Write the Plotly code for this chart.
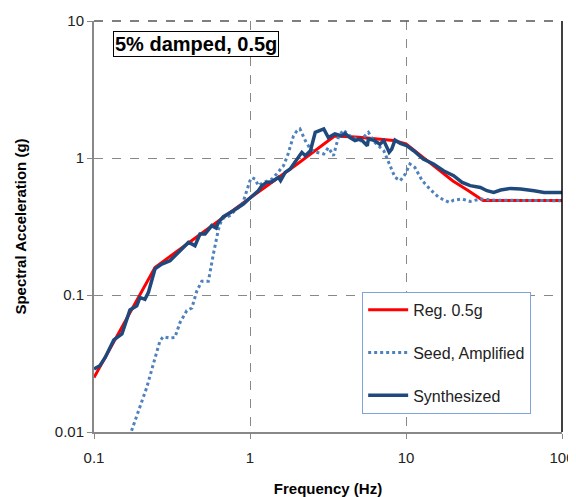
import plotly.graph_objects as go

# Reg. 0.5g target spectrum (Hz, g)
reg_f = [0.1, 0.246, 1.0, 2.0, 3.5, 5.0, 8.3, 10.0, 15.0, 20.0, 25.0, 31.2, 100.0]
reg_sa = [0.025, 0.159, 0.51, 0.90, 1.45, 1.42, 1.34, 1.27, 0.88, 0.68, 0.58, 0.49, 0.49]

# Seed, Amplified
seed_f = [0.174, 0.197, 0.218, 0.24, 0.265, 0.278, 0.307, 0.33, 0.356, 0.393, 0.424,
          0.456, 0.491, 0.541, 0.555, 0.583, 0.627, 0.66, 0.74, 0.82, 0.9, 1.0, 1.03,
          1.08, 1.13, 1.22, 1.38, 1.48, 1.64, 1.74, 1.81, 1.9, 2.0, 2.09, 2.26, 2.44,
          2.68, 2.97, 3.18, 3.43, 3.68, 3.96, 4.37, 5.1, 5.74, 6.3, 7.2, 7.93, 8.5,
          9.2, 9.9, 10.6, 11.4, 12.7, 14.3, 16.2, 17.9, 19.0, 20.2, 22.9, 25.8, 30.0,
          37.8, 49.0, 66.0, 98.0]
seed_sa = [0.0102, 0.0151, 0.0212, 0.0313, 0.0464, 0.0496, 0.0485, 0.049, 0.063, 0.0768,
           0.0804, 0.107, 0.126, 0.126, 0.15, 0.2, 0.3, 0.359, 0.379, 0.425, 0.47, 0.683,
           0.72, 0.70, 0.628, 0.664, 0.70, 0.764, 0.879, 1.04, 1.19, 1.45, 1.58, 1.63,
           1.34, 1.16, 1.1, 1.07, 1.19, 1.04, 1.41, 1.6, 1.45, 1.34, 1.54, 1.3, 1.13,
           0.879, 0.722, 0.683, 0.764, 0.904, 0.854, 0.683, 0.59, 0.516, 0.488, 0.474,
           0.492, 0.502, 0.482, 0.502, 0.492, 0.492, 0.488, 0.488]

# Synthesized
syn_f = [0.1, 0.109, 0.118, 0.134, 0.151, 0.162, 0.170, 0.188, 0.197, 0.212, 0.223,
         0.246, 0.272, 0.307, 0.347, 0.374, 0.403, 0.423, 0.444, 0.478, 0.515, 0.569,
         0.606, 0.627, 0.675, 0.782, 0.906, 1.0, 1.13, 1.19, 1.28, 1.38, 1.52, 1.57,
         1.68, 1.81, 2.0, 2.15, 2.26, 2.44, 2.62, 2.97, 3.18, 3.5, 3.87, 4.07, 4.37,
         4.71, 5.1, 5.65, 5.74, 6.3, 6.8, 7.2, 7.8, 8.1, 8.5, 9.2, 10.1, 11.2, 12.9,
         15.0, 17.4, 20.2, 22.9, 25.8, 30.0, 33.0, 36.5, 40.4, 46.8, 54.3, 66.2, 76.8, 100.0]
syn_sa = [0.0288, 0.0305, 0.035, 0.047, 0.052, 0.067, 0.0778, 0.0835, 0.096, 0.093, 0.104,
          0.155, 0.168, 0.178, 0.205, 0.223, 0.242, 0.236, 0.229, 0.279, 0.279, 0.321,
          0.308, 0.339, 0.373, 0.412, 0.461, 0.51, 0.577, 0.628, 0.664, 0.671, 0.722, 0.683,
          0.785, 0.831, 0.984, 1.1, 1.04, 1.13, 1.54, 1.63, 1.41, 1.50, 1.45, 1.51, 1.41,
          1.34, 1.38, 1.23, 1.38, 1.34, 1.26, 1.34, 1.1, 1.16, 1.35, 1.28, 1.23, 1.13, 0.984,
          0.904, 0.807, 0.743, 0.664, 0.628, 0.61, 0.577, 0.561, 0.584, 0.6, 0.594, 0.577,
          0.561, 0.561]

font = "Arial, Liberation Sans, sans-serif"

fig = go.Figure()
fig.add_trace(go.Scatter(x=reg_f, y=reg_sa, mode='lines', name='Reg. 0.5g',
                         legendgroup='a', line=dict(color='#FF0000', width=3)))
fig.add_trace(go.Scatter(x=seed_f, y=seed_sa, mode='lines', name='Seed, Amplified',
                         legendgroup='b', line=dict(color='#4F81BD', width=3, dash='3px,3px')))
fig.add_trace(go.Scatter(x=syn_f, y=syn_sa, mode='lines', name='Synthesized',
                         legendgroup='c', line=dict(color='#1F497D', width=3.5)))

# page body has an 8px margin, so the figure is sized to fit the window
fig.update_layout(
    width=568, height=489,
    margin=dict(l=86, r=14, t=13, b=65, autoexpand=False),
    paper_bgcolor='white', plot_bgcolor='white',
    font=dict(family=font, size=15, color='#222222'),
    showlegend=True,
    legend=dict(x=0.573, y=0.341, xanchor='left', yanchor='top',
                bordercolor='#7FA4D8', borderwidth=1, bgcolor='white',
                font=dict(size=16, color='#222222'), itemwidth=40,
                tracegroupgap=19),
    xaxis=dict(type='log', range=[-1, 2], showgrid=True, gridcolor='#888888',
               griddash='dash', gridwidth=1, showline=True, linecolor='#888888',
               linewidth=2, ticks='outside', ticklen=5, tickcolor='#888888',
               tickvals=[0.1, 1, 10, 100], ticktext=['0.1', '1', '10', '100'],
               ticklabelstandoff=6, automargin=False,
               title=dict(text='<b>Frequency (Hz)</b>', standoff=18,
                          font=dict(size=15, color='#000000'))),
    yaxis=dict(type='log', range=[-2, 1], showgrid=True, gridcolor='#888888',
               griddash='dash', gridwidth=1, showline=True, linecolor='#888888',
               linewidth=2, ticks='outside', ticklen=5, tickcolor='#888888',
               tickvals=[0.01, 0.1, 1, 10], ticktext=['0.01', '0.1', '1', '10'],
               automargin=False,
               title=dict(text='<b>Spectral Acceleration (g)</b>', standoff=25,
                          font=dict(size=15, color='#000000'))),
    shapes=[
        dict(type='line', xref='paper', yref='paper', x0=0, x1=1, y0=1, y1=1,
             line=dict(color='#555555', width=1.5, dash='dash')),
        dict(type='line', xref='paper', yref='paper', x0=1, x1=1, y0=0, y1=1,
             line=dict(color='#000000', width=1.5)),
    ],
    annotations=[
        dict(text='<b>5% damped, 0.5g</b>', xref='paper', yref='paper',
             x=0.218, y=0.943, xanchor='center', yanchor='middle', showarrow=False,
             font=dict(size=20, color='#000000'), bordercolor='#000000',
             borderwidth=1, borderpad=1, bgcolor='white'),
    ],
)

fig.write_html("out.html")
